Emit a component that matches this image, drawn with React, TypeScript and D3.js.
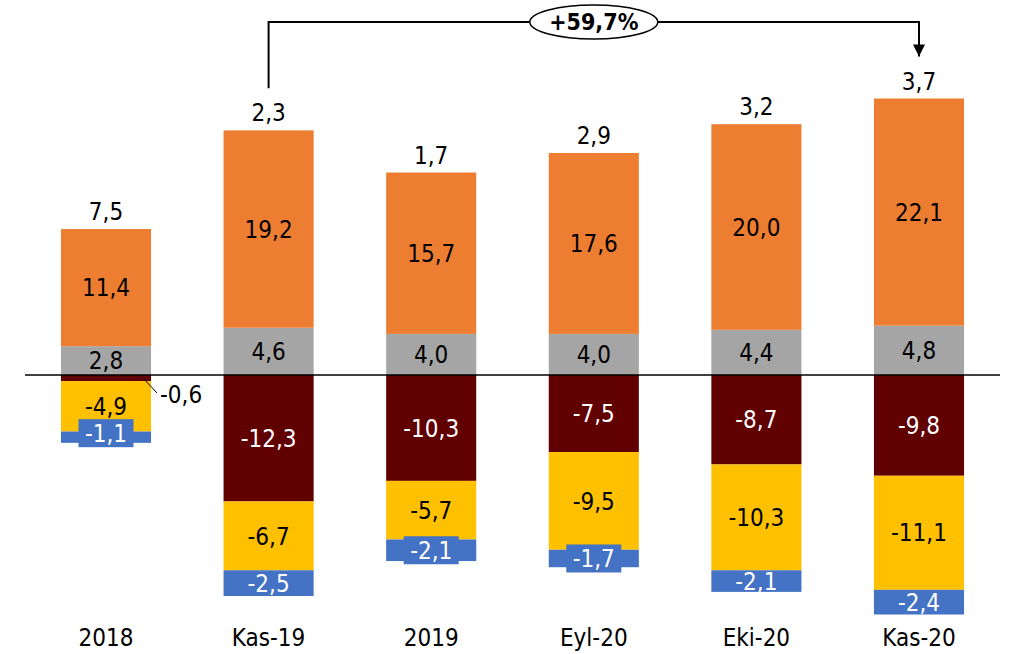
import React from 'react';
import * as d3 from 'd3';

// categories and stacked series (same order as the picture)
const categories = ['2018', 'Kas-19', '2019', 'Eyl-20', 'Eki-20', 'Kas-20'];
const grayValues = [2.8, 4.6, 4.0, 4.0, 4.4, 4.8];
const orangeValues = [11.4, 19.2, 15.7, 17.6, 20.0, 22.1];
const darkRedValues = [-0.6, -12.3, -10.3, -7.5, -8.7, -9.8];
const yellowValues = [-4.9, -6.7, -5.7, -9.5, -10.3, -11.1];
const blueValues = [-1.1, -2.5, -2.1, -1.7, -2.1, -2.4];
const netValues = [7.5, 2.3, 1.7, 2.9, 3.2, 3.7];
const boxedBlueLabels = ['2018', '2019', 'Eyl-20'];
const outsideLabels = ['2018']; // dark red label drawn outside with leader
const changeLabel = '+59,7%';
const changeFrom = 'Kas-19';
const changeTo = 'Kas-20';

const W = 1010;
const H = 654;
const FONT = '"DejaVu Sans Condensed", "DejaVu Sans", sans-serif';

const fmt = (v: number) => v.toFixed(1).replace('.', ',');

export default function App() {
    const x = d3.scaleBand<string>()
        .domain(categories)
        .range([24.7, 1000.3])
        .paddingInner(0.446)
        .paddingOuter(0.223);

    const y = d3.scaleLinear()
        .domain([-24, 28])
        .range([621.7, 87.2]);

    const bw = x.bandwidth();

    const series = [
        { key: 'gray', color: '#A5A5A5', text: '#000', values: grayValues },
        { key: 'orange', color: '#ED7D31', text: '#000', values: orangeValues },
        { key: 'darkred', color: '#600000', text: '#fff', values: darkRedValues },
        { key: 'yellow', color: '#FFC000', text: '#000', values: yellowValues },
        { key: 'blue', color: '#4472C4', text: '#fff', values: blueValues },
    ];

    // stack: positives upward from zero, negatives downward
    const segs: any[] = [];
    categories.forEach((c, i) => {
        let pos = 0;
        let neg = 0;
        series.forEach(s => {
            const v = s.values[i];
            let y0, y1;
            if (v >= 0) { y0 = pos; y1 = pos + v; pos = y1; }
            else { y0 = neg; y1 = neg + v; neg = y1; }
            segs.push({ cat: c, i, s, v, y0, y1 });
        });
    });

    const posTop = (i: number) => grayValues[i] + orangeValues[i];
    const cx = (c: string) => (x(c) as number) + bw / 2;

    const fromX = cx(changeFrom);
    const toX = cx(changeTo);
    const lineY = 22;
    const startY = y(posTop(categories.indexOf(changeFrom))) - 42;
    const arrowEnd = y(posTop(categories.indexOf(changeTo))) - 42;
    const midX = (fromX + toX) / 2;

    return (
        <svg width={W} height={H} style={{ position: 'absolute', left: 0, top: 0 }}
            fontFamily={FONT}>
            <defs>
                <marker id="arr" viewBox="0 0 10 10" refX="10" refY="5"
                    markerUnits="userSpaceOnUse" markerWidth="15" markerHeight="12" orient="auto">
                    <path d="M0,0 L10,5 L0,10 z" fill="#000" />
                </marker>
            </defs>
            {segs.map((d, k) => (
                <rect key={k} x={x(d.cat)} width={bw}
                    y={Math.min(y(d.y0), y(d.y1))}
                    height={Math.abs(y(d.y0) - y(d.y1))}
                    fill={d.s.color} />
            ))}
            <line x1={25} x2={1000} y1={y(0)} y2={y(0)} stroke="#000" strokeWidth={1.5} />
            {segs.map((d, k) => {
                const my = (y(d.y0) + y(d.y1)) / 2;
                if (d.s.key === 'darkred' && outsideLabels.includes(d.cat)) {
                    const x1 = (x(d.cat) as number) + bw - 8;
                    return (
                        <g key={'l' + k}>
                            <line x1={x1} y1={y(0) + 3} x2={x1 + 14} y2={y(0) + 18}
                                stroke="#000" strokeWidth={1} />
                            <text x={x1 + 17} y={y(0) + 28} fontSize={24} fill="#000">{fmt(d.v)}</text>
                        </g>
                    );
                }
                const boxed = d.s.key === 'blue' && boxedBlueLabels.includes(d.cat);
                const ly = boxed && d.i === 0 ? my - 4 : my;
                return (
                    <g key={'l' + k}>
                        {boxed && (
                            <rect x={cx(d.cat) - 27.5} y={ly - 14} width={55} height={28} fill={d.s.color} />
                        )}
                        <text x={cx(d.cat)} y={ly} dy="0.36em" textAnchor="middle"
                            fontSize={24} fill={d.s.text}>{fmt(d.v)}</text>
                    </g>
                );
            })}
            {categories.map((c, i) => (
                <text key={'n' + c} x={cx(c)} y={y(posTop(i)) - 9} textAnchor="middle"
                    fontSize={24} fill="#000">{fmt(netValues[i])}</text>
            ))}
            {categories.map(c => (
                <text key={'x' + c} x={cx(c)} y={646} textAnchor="middle"
                    fontSize={24} fill="#000">{c}</text>
            ))}
            <path d={`M${fromX},${startY} V${lineY} H${toX} V${arrowEnd}`}
                fill="none" stroke="#000" strokeWidth={2} markerEnd="url(#arr)" />
            <ellipse cx={midX} cy={lineY} rx={64} ry={17} fill="#fff" stroke="#000" strokeWidth={1.5} />
            <text x={midX} y={lineY} dy="0.36em" textAnchor="middle" fontSize={23}
                fontWeight="bold" fill="#000">{changeLabel}</text>
        </svg>
    );
}
